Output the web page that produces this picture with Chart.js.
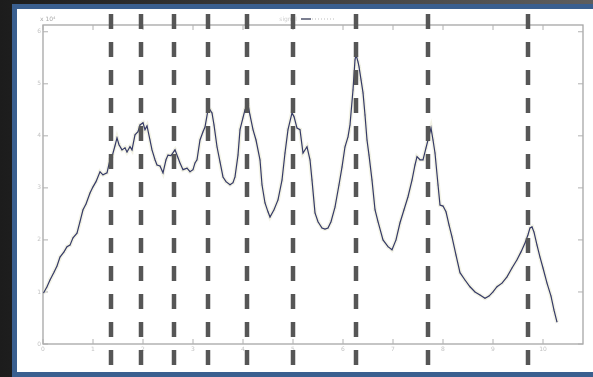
<!DOCTYPE html>
<html>
<head>
<meta charset="utf-8">
<script src="https://cdn.jsdelivr.net/npm/chart.js@4/dist/chart.umd.min.js"></script>
<style>
  html, body { margin: 0; padding: 0; background: #2a2a2a; overflow: hidden; }
  canvas { display: block; }
</style>
</head>
<body>
<canvas id="c" width="593" height="377"></canvas>
<script>
// Sample positions (x) and measured signal (y, in units of 10^4)
const xValues = [
  0.01, 0.08, 0.14, 0.22, 0.28, 0.34, 0.42, 0.48, 0.54, 0.60,
  0.68, 0.74, 0.80, 0.86, 0.94, 1.00, 1.06, 1.14, 1.20, 1.28,
  1.34, 1.38, 1.44, 1.48, 1.52, 1.58, 1.64, 1.68, 1.74, 1.78,
  1.84, 1.90, 1.94, 2.00, 2.04, 2.08, 2.14, 2.18, 2.24, 2.28,
  2.34, 2.40, 2.46, 2.50, 2.56, 2.64, 2.70, 2.74, 2.80, 2.88,
  2.94, 3.00, 3.04, 3.08, 3.14, 3.20, 3.24, 3.30, 3.34, 3.38,
  3.42, 3.48, 3.54, 3.60, 3.66, 3.74, 3.80, 3.84, 3.90, 3.94,
  4.00, 4.04, 4.10, 4.14, 4.20, 4.26, 4.34, 4.38, 4.44, 4.50,
  4.54, 4.62, 4.70, 4.78, 4.84, 4.90, 4.98, 5.02, 5.08, 5.14,
  5.20, 5.28, 5.34, 5.38, 5.44, 5.50, 5.58, 5.64, 5.70, 5.76,
  5.84, 5.92, 5.98, 6.04, 6.10, 6.14, 6.20, 6.24, 6.26, 6.30,
  6.32, 6.36, 6.40, 6.44, 6.48, 6.52, 6.58, 6.64, 6.70, 6.80,
  6.90, 6.98, 7.06, 7.14, 7.22, 7.30, 7.38, 7.44, 7.48, 7.54,
  7.60, 7.66, 7.70, 7.76, 7.80, 7.84, 7.90, 7.94, 8.00, 8.06,
  8.12, 8.18, 8.26, 8.34, 8.44, 8.54, 8.64, 8.74, 8.84, 8.92,
  9.00, 9.08, 9.18, 9.28, 9.38, 9.48, 9.56, 9.64, 9.70, 9.74,
  9.78, 9.82, 9.88, 9.94, 10.00, 10.08, 10.16, 10.22, 10.28
];
const yValues = [
  0.98, 1.10, 1.23, 1.38, 1.50, 1.67, 1.77, 1.87, 1.90, 2.04,
  2.13, 2.35, 2.58, 2.69, 2.90, 3.02, 3.12, 3.31, 3.25, 3.29,
  3.54, 3.60, 3.81, 3.96, 3.83, 3.73, 3.77, 3.69, 3.79, 3.73,
  4.02, 4.08, 4.21, 4.25, 4.12, 4.19, 3.92, 3.73, 3.54, 3.44,
  3.42, 3.29, 3.54, 3.63, 3.62, 3.73, 3.58, 3.48, 3.35, 3.38,
  3.31, 3.35, 3.48, 3.54, 3.92, 4.08, 4.17, 4.50, 4.50, 4.44,
  4.21, 3.79, 3.50, 3.21, 3.12, 3.06, 3.10, 3.21, 3.63, 4.12,
  4.35, 4.50, 4.60, 4.40, 4.12, 3.92, 3.54, 3.06, 2.71, 2.54,
  2.44, 2.58, 2.77, 3.15, 3.67, 4.12, 4.44, 4.37, 4.15, 4.12,
  3.67, 3.79, 3.54, 3.15, 2.52, 2.35, 2.23, 2.21, 2.23, 2.35,
  2.63, 3.06, 3.40, 3.79, 3.98, 4.21, 4.88, 5.46, 5.56, 5.42,
  5.33, 5.08, 4.83, 4.40, 3.92, 3.63, 3.15, 2.58, 2.35, 2.00,
  1.87, 1.81, 2.00, 2.33, 2.58, 2.83, 3.15, 3.44, 3.60, 3.54,
  3.54, 3.77, 3.92, 4.15, 3.92, 3.67, 3.06, 2.67, 2.65, 2.54,
  2.29, 2.06, 1.71, 1.37, 1.23, 1.10, 1.00, 0.94, 0.88, 0.92,
  1.00, 1.10, 1.17, 1.29, 1.46, 1.62, 1.77, 1.94, 2.10, 2.23,
  2.25, 2.15, 1.90, 1.67, 1.46, 1.17, 0.92, 0.65, 0.42
];
// Event markers (dashed verticals)
const markerX = [1.36, 1.96, 2.62, 3.30, 4.08, 5.00, 6.26, 7.70, 9.70];
// Axis ticks and labels
const xTicks = [0, 1, 2, 3, 4, 5, 6, 7, 8, 9, 10];
const xTickLabels = ['0', '1', '2', '3', '4', '5', '6', '7', '8', '9', '10'];
const yTicks = [0, 1, 2, 3, 4, 5, 6];
const yTickLabels = ['0', '1', '2', '3', '4', '5', '6'];
const exponentLabel = 'x 10\u2074';
const seriesName = 'signal';

const points = xValues.map((x, i) => ({ x: x, y: yValues[i] }));

const framePlugin = {
  id: 'frame',
  beforeDraw(chart) {
    const ctx = chart.ctx;
    const W = chart.width, H = chart.height;
    ctx.save();
    const g = ctx.createLinearGradient(0, 0, W, 0);
    g.addColorStop(0, '#1c1c1c');
    g.addColorStop(0.5, '#3e3e3e');
    g.addColorStop(1, '#5e5e5e');
    ctx.fillStyle = g;
    ctx.fillRect(0, 0, W, H);
    ctx.fillStyle = '#3a5f8f';
    ctx.fillRect(12, 4, W, H);
    ctx.fillStyle = '#ffffff';
    ctx.fillRect(17, 9, W, 363);
    ctx.restore();
  },
  beforeDatasetsDraw(chart) {
    const ctx = chart.ctx;
    const a = chart.chartArea;
    const xs = chart.scales.x, ys = chart.scales.y;
    ctx.save();
    // axes box
    ctx.strokeStyle = '#a6a6a6';
    ctx.lineWidth = 1.3;
    ctx.strokeRect(a.left, a.top, a.right - a.left, a.bottom - a.top);
    // inward ticks
    ctx.lineWidth = 1;
    ctx.strokeStyle = '#b0b0b0';
    ctx.beginPath();
    xTicks.forEach(v => {
      const px = xs.getPixelForValue(v);
      ctx.moveTo(px, a.bottom); ctx.lineTo(px, a.bottom - 5);
      ctx.moveTo(px, a.top); ctx.lineTo(px, a.top + 5);
    });
    yTicks.forEach(v => {
      const py = ys.getPixelForValue(v);
      ctx.moveTo(a.left, py); ctx.lineTo(a.left + 5, py);
      ctx.moveTo(a.right, py); ctx.lineTo(a.right - 5, py);
    });
    ctx.stroke();
    // tick labels
    ctx.fillStyle = '#c4c4c4';
    ctx.font = '6px "DejaVu Sans"';
    ctx.textAlign = 'center';
    ctx.textBaseline = 'top';
    xTicks.forEach((v, i) => {
      ctx.fillText(xTickLabels[i], xs.getPixelForValue(v), a.bottom + 2);
    });
    ctx.textAlign = 'right';
    ctx.textBaseline = 'middle';
    yTicks.forEach((v, i) => {
      ctx.fillText(yTickLabels[i], a.left - 2, ys.getPixelForValue(v));
    });
    ctx.fillStyle = '#a8a8a8';
    ctx.textAlign = 'left';
    ctx.textBaseline = 'alphabetic';
    ctx.fillText(exponentLabel, a.left - 3, a.top - 4);
    // legend entry
    ctx.fillStyle = '#cfcfcf';
    ctx.textAlign = 'right';
    ctx.fillText(seriesName, 297, a.top - 4);
    ctx.strokeStyle = '#333a55';
    ctx.lineWidth = 1.3;
    ctx.beginPath();
    ctx.moveTo(301, a.top - 6); ctx.lineTo(311, a.top - 6);
    ctx.stroke();
    ctx.strokeStyle = '#d4d4d4';
    ctx.setLineDash([1, 2]);
    ctx.beginPath();
    ctx.moveTo(312, a.top - 6); ctx.lineTo(334, a.top - 6);
    ctx.stroke();
    ctx.restore();
  },
  afterDraw(chart) {
    const ctx = chart.ctx;
    const xs = chart.scales.x;
    ctx.save();
    ctx.strokeStyle = '#565656';
    ctx.lineWidth = 4.5;
    ctx.setLineDash([15, 13]);
    markerX.forEach(v => {
      const px = Math.round(xs.getPixelForValue(v));
      ctx.beginPath();
      ctx.moveTo(px, 14);
      ctx.lineTo(px, 366);
      ctx.stroke();
    });
    ctx.restore();
  }
};

new Chart(document.getElementById('c'), {
  type: 'line',
  data: {
    datasets: [
      {
        label: seriesName,
        data: points,
        borderColor: '#353a66',
        borderWidth: 1.2,
        pointRadius: 0,
        tension: 0
      },
      {
        label: seriesName + ' band',
        data: points,
        borderColor: 'rgba(232, 232, 205, 0.5)',
        borderWidth: 4,
        pointStyle: 'crossRot',
        pointRadius: 1.6,
        pointBorderWidth: 0.7,
        pointBorderColor: 'rgba(160, 160, 170, 0.4)',
        pointBackgroundColor: 'rgba(0,0,0,0)',
        tension: 0
      }
    ]
  },
  options: {
    responsive: false,
    animation: false,
    events: [],
    layout: { padding: { left: 43, top: 25, right: 10, bottom: 33 } },
    plugins: { legend: { display: false }, tooltip: { enabled: false } },
    scales: {
      x: { type: 'linear', display: false, min: 0, max: 10.8 },
      y: { type: 'linear', display: false, min: 0, max: 6.13 }
    }
  },
  plugins: [framePlugin]
});
</script>
</body>
</html>
